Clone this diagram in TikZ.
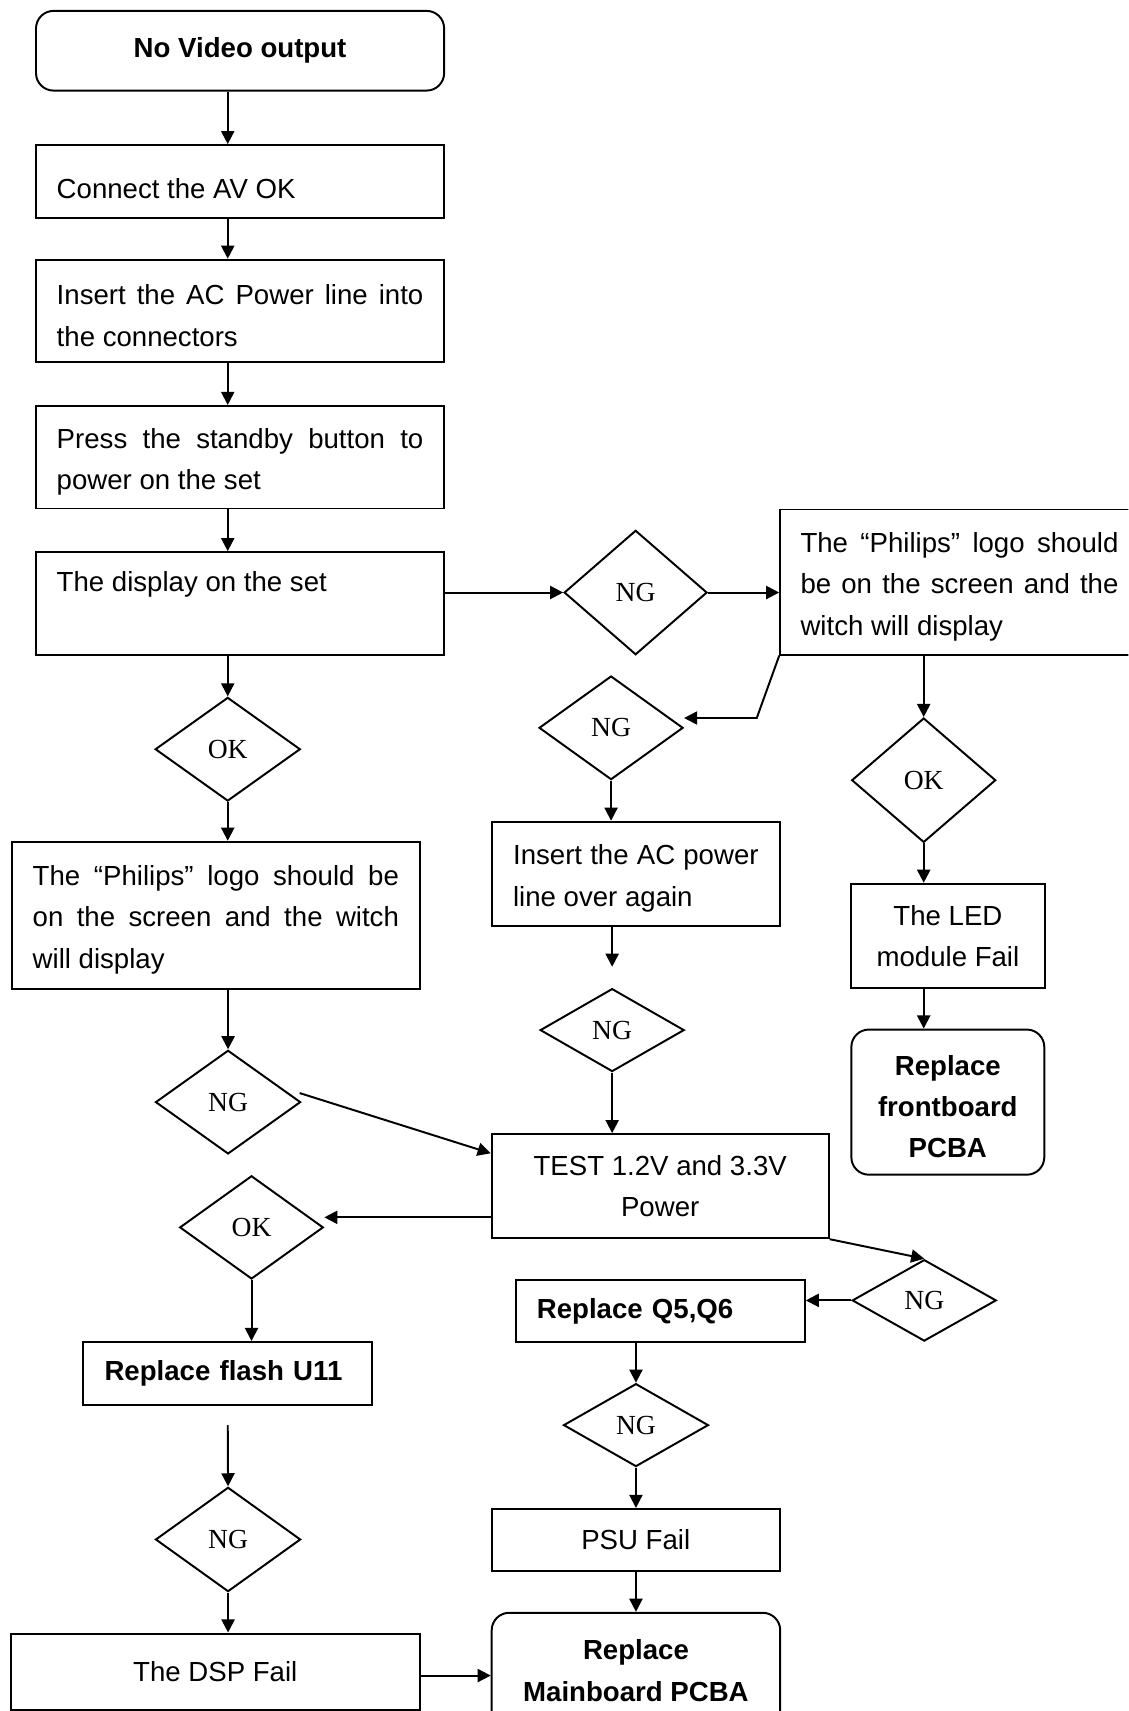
\documentclass[tikz,border=0pt]{standalone}
\usepackage{fontspec}
\setmainfont{Liberation Sans}
\newfontfamily\ngfont{Liberation Serif}
\usepackage{tikz}
\usetikzlibrary{shapes.geometric, arrows.meta, calc}

\begin{document}
\begin{tikzpicture}[x=0.5pt, y=-0.5pt, line width=0.9pt,
  every node/.style={font=\fontsize{12.65}{19}\selectfont, inner sep=0pt},
  procbox/.style={draw, rectangle, align=justify},
  endbox/.style={draw, rectangle, rounded corners=8pt, align=center,
                 font=\fontsize{12.65}{19}\selectfont\bfseries},
  decision/.style={draw, diamond, font=\fontsize{12.65}{19}\selectfont\ngfont},
  arr/.style={-{Triangle[length=6pt, width=6pt]}}]
  \useasboundingbox (0, 0) rectangle (1034, 1568);
  \fill[white] (0, 0) rectangle (1034, 1568);
  \clip (0, 0) rectangle (1034, 1568);

  \node[endbox, minimum width=187pt, minimum height=36.5pt] (start) at (220, 46.5) {No Video output};
  \node[procbox, minimum width=187pt, minimum height=33.5pt, text width=168pt,
        text height=15pt, text depth=0pt] (conn) at (220, 166.5)
    {Connect the AV OK};
  \node[procbox, minimum width=187pt, minimum height=47pt, text width=168pt] (ins) at (220, 285)
    {\strut Insert the AC Power line into\linebreak the connectors};
  \node[procbox, minimum width=187pt, minimum height=47pt, text width=168pt] (press) at (220, 419)
    {\strut Press the standby button to\linebreak power on the set};
  \node[procbox, minimum width=187pt, minimum height=47pt, text width=168pt] (disp) at (220, 553)
    {\strut The display on the set\\\strut};

  \node[decision, minimum width=65.5pt, minimum height=57pt] (ng1) at (582.5, 543) {NG};
  \node[procbox, minimum width=164.3pt, minimum height=66.5pt, text width=145.7pt] (phil2) at (879.3, 533.4)
    {\strut The “Philips” logo should\linebreak be on the screen and the\linebreak witch will display};
  \node[decision, minimum width=66pt, minimum height=47.5pt] (ng2) at (560, 667) {NG};
  \node[procbox, minimum width=132pt, minimum height=48pt, text width=112.5pt] (ins2) at (582.7, 801)
    {\strut Insert the AC power\linebreak line over again};
  \node[decision, minimum width=66pt, minimum height=38pt] (ng3) at (561, 944) {NG};
  \node[procbox, align=center, minimum width=154.4pt, minimum height=47.7pt] (test) at (605, 1087)
    {TEST 1.2V and 3.3V\\Power};

  \node[decision, minimum width=66pt, minimum height=57pt] (ok3) at (846.5, 715) {OK};
  \node[procbox, align=center, minimum width=88.7pt, minimum height=47.8pt] (led) at (868.7, 857.7)
    {The LED\\module Fail};
  \node[endbox, minimum width=88.4pt, minimum height=66.5pt] (front) at (868.6, 1010)
    {\strut Replace\\frontboard\\PCBA};

  \node[decision, minimum width=66.5pt, minimum height=47.5pt] (ok1) at (208.7, 686.6) {OK};
  \node[procbox, minimum width=187.2pt, minimum height=67.3pt, text width=167.8pt] (phil1) at (197.8, 838.7)
    {\strut The “Philips” logo should be\linebreak on the screen and the witch\linebreak will display};
  \node[decision, minimum width=66.5pt, minimum height=47.5pt] (ng4) at (209, 1010) {NG};
  \node[decision, minimum width=65.8pt, minimum height=47.3pt] (ok2) at (230.5, 1124.8) {OK};
  \node[procbox, align=left, minimum width=132.6pt, minimum height=28.8pt, text width=112.6pt,
        font=\fontsize{12.65}{19}\selectfont\bfseries] (flash) at (208.4, 1258.6) {Replace flash U11};
  \node[decision, minimum width=66.5pt, minimum height=47.8pt] (ng5) at (209, 1410.8) {NG};
  \node[procbox, align=center, minimum width=187.5pt, minimum height=35pt] (dsp) at (197.3, 1532)
    {The DSP Fail};

  \node[decision, minimum width=66pt, minimum height=37.3pt] (ng7) at (847, 1191.7) {NG};
  \node[procbox, align=left, minimum width=132.5pt, minimum height=28.5pt, text width=113pt,
        font=\fontsize{12.65}{19}\selectfont\bfseries] (q56) at (605, 1201.4) {Replace Q5,Q6};
  \node[decision, minimum width=66.4pt, minimum height=38pt] (ng6) at (582.8, 1306) {NG};
  \node[procbox, align=center, minimum width=132pt, minimum height=28.5pt] (psu) at (582.6, 1411.3)
    {PSU Fail};
  \node[endbox, minimum width=132.2pt, minimum height=53pt] (main) at (582.8, 1531)
    {Replace\\Mainboard PCBA};

  \coordinate (colL) at (208.7, 0);
  \coordinate (bend) at (693.5, 658);
  \coordinate (gapM) at (561, 886);
  \coordinate (gapL) at (208.7, 1305.9);
  \coordinate (okin) at ($(ok2.east)+(0, -9.2)$);
  \coordinate (ngout) at ($(ng4.east)+(-1.8, -8.3)$);
  \coordinate (testin) at ($(test.north west)+(0, 18.5)$);
  \coordinate (mainin) at ($(main.west)+(0, 4.5)$);

  \draw[arr] (start.south -| colL) -- (conn.north -| colL);
  \draw[arr] (conn.south -| colL) -- (ins.north -| colL);
  \draw[arr] (ins.south -| colL) -- (press.north -| colL);
  \draw[arr] (press.south -| colL) -- (disp.north -| colL);
  \draw[arr] (disp.south -| ok1) -- (ok1.north);
  \draw[arr] (ok1.south) -- (phil1.north -| ok1);
  \draw[arr] (phil1.south -| ng4) -- (ng4.north);

  \draw[arr] (disp.east |- ng1.west) -- (ng1.west);
  \draw[arr] (ng1.east) -- (ng1.east -| phil2.west);
  \draw[arr] (phil2.south west) -- (bend) -- (bend -| ng2.east);
  \draw[arr] (ng2.south) -- (ng2.south |- ins2.north);
  \draw[arr] (ins2.south -| gapM) -- (gapM);
  \draw[arr] (ng3.south) -- (test.north -| ng3);

  \draw[arr] (phil2.south -| ok3) -- (ok3.north);
  \draw[arr] (ok3.south) -- (led.north -| ok3);
  \draw[arr] (led.south -| ok3) -- (front.north -| ok3);

  \draw[arr] (ngout) -- (testin);
  \draw[arr] (okin -| test.west) -- (okin);
  \draw[arr] (ok2.south) -- (flash.north -| ok2);
  \draw[arr] (gapL) -- (ng5.north);
  \draw[arr] (ng5.south) -- (dsp.north -| ng5);
  \draw[arr] (mainin -| dsp.east) -- (mainin);

  \draw[arr] (test.south east) -- (ng7.north);
  \draw[arr] (ng7.west) -- (ng7.west -| q56.east);
  \draw[arr] (q56.south -| ng6) -- (ng6.north);
  \draw[arr] (ng6.south) -- (psu.north -| ng6);
  \draw[arr] (psu.south -| ng6) -- (main.north -| ng6);
\end{tikzpicture}
\end{document}
